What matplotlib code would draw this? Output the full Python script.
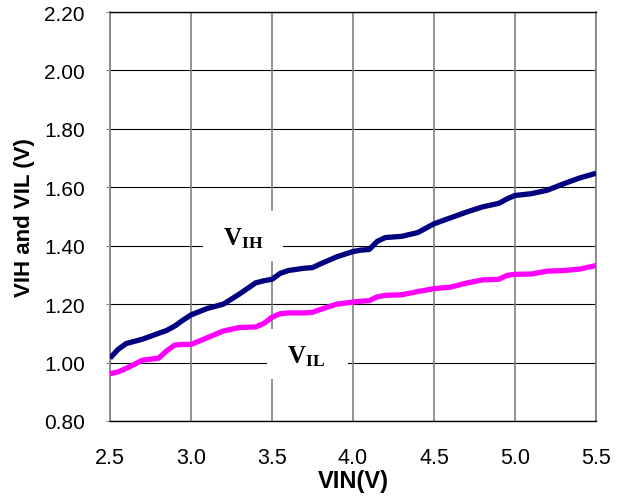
import matplotlib
matplotlib.use("Agg")
import matplotlib.pyplot as plt
from matplotlib.patches import Rectangle

# values
vin = [2.50, 2.55, 2.60, 2.70, 2.80, 2.85, 2.90, 2.95, 3.00, 3.10,
       3.20, 3.30, 3.40, 3.45, 3.50, 3.55, 3.60, 3.70, 3.75, 3.80,
       3.90, 4.00, 4.05, 4.10, 4.15, 4.20, 4.30, 4.40, 4.50, 4.60,
       4.70, 4.80, 4.90, 4.95, 5.00, 5.10, 5.20, 5.30, 5.40, 5.50]
vih = [1.015, 1.045, 1.065, 1.080, 1.100, 1.110, 1.125, 1.145, 1.163, 1.185,
       1.200, 1.235, 1.273, 1.280, 1.285, 1.305, 1.315, 1.323, 1.325, 1.338,
       1.362, 1.380, 1.385, 1.387, 1.415, 1.428, 1.432, 1.445, 1.475, 1.495,
       1.515, 1.533, 1.545, 1.560, 1.572, 1.578, 1.590, 1.612, 1.632, 1.648]
vil = [0.962, 0.968, 0.980, 1.008, 1.015, 1.040, 1.060, 1.062, 1.062, 1.085,
       1.108, 1.120, 1.122, 1.134, 1.155, 1.167, 1.170, 1.170, 1.172, 1.182,
       1.200, 1.207, 1.210, 1.212, 1.225, 1.230, 1.232, 1.243, 1.253, 1.258,
       1.272, 1.283, 1.285, 1.298, 1.302, 1.303, 1.313, 1.315, 1.320, 1.332]

x_ticks = [2.5, 3.0, 3.5, 4.0, 4.5, 5.0, 5.5]
y_ticks = [0.80, 1.00, 1.20, 1.40, 1.60, 1.80, 2.00, 2.20]

plt.rcParams['font.family'] = ['Liberation Sans', 'DejaVu Sans']
plt.rcParams['mathtext.fontset'] = 'custom'
plt.rcParams['mathtext.bf'] = 'Liberation Serif:bold'
plt.rcParams['mathtext.rm'] = 'Liberation Serif'

fig = plt.figure(figsize=(6.2, 5.02), dpi=100)
ax = fig.add_axes([0.1774, 0.1594, 0.7839, 0.8147])

ax.set_xlim(2.5, 5.5)
ax.set_ylim(0.8, 2.2)
ax.set_xticks(x_ticks)
ax.set_yticks(y_ticks)
ax.set_xticklabels(['%.1f' % v for v in x_ticks])
ax.set_yticklabels(['%.2f' % v for v in y_ticks])

# grid: dark horizontal, grey vertical
for y in y_ticks:
    ax.axhline(y, color='black', lw=0.8, zorder=1)
for x in x_ticks:
    ax.axvline(x, color='#808080', lw=1.2, zorder=1)

# white boxes behind the curve labels (they cut the grid)
ax.add_patch(Rectangle((3.074, 1.347), 0.494, 0.171, facecolor='white',
                       edgecolor='none', zorder=2))
ax.add_patch(Rectangle((3.469, 0.943), 0.500, 0.171, facecolor='white',
                       edgecolor='none', zorder=2))
ax.text(3.198, 1.405, r'$\mathbf{V_{IH}}$', fontsize=18, ha='left',
        va='baseline', zorder=3)
ax.text(3.593, 1.001, r'$\mathbf{V_{IL}}$', fontsize=18, ha='left',
        va='baseline', zorder=3)

ax.plot(vin, vih, color='#000080', lw=3.8, zorder=4,
        solid_capstyle='butt', solid_joinstyle='round')
ax.plot(vin, vil, color='#FF00FF', lw=3.8, zorder=4,
        solid_capstyle='butt', solid_joinstyle='round')

for side in ['left', 'right']:
    ax.spines[side].set_color('#808080')
    ax.spines[side].set_linewidth(1.2)
for side in ['top', 'bottom']:
    ax.spines[side].set_color('black')
    ax.spines[side].set_linewidth(1.0)

ax.tick_params(axis='y', direction='out', length=3, color='#808080',
               labelsize=15, pad=15)
ax.tick_params(axis='x', length=0, labelsize=15.5, pad=19)

ax.set_xlabel('VIN(V)', fontsize=17, fontweight='bold')
ax.set_ylabel('VIH and VIL (V)', fontsize=16, fontweight='bold')
ax.xaxis.set_label_coords(0.5, -0.117)
ax.yaxis.set_label_coords(-0.155, 0.5)

fig.savefig('out.png', dpi=100)
